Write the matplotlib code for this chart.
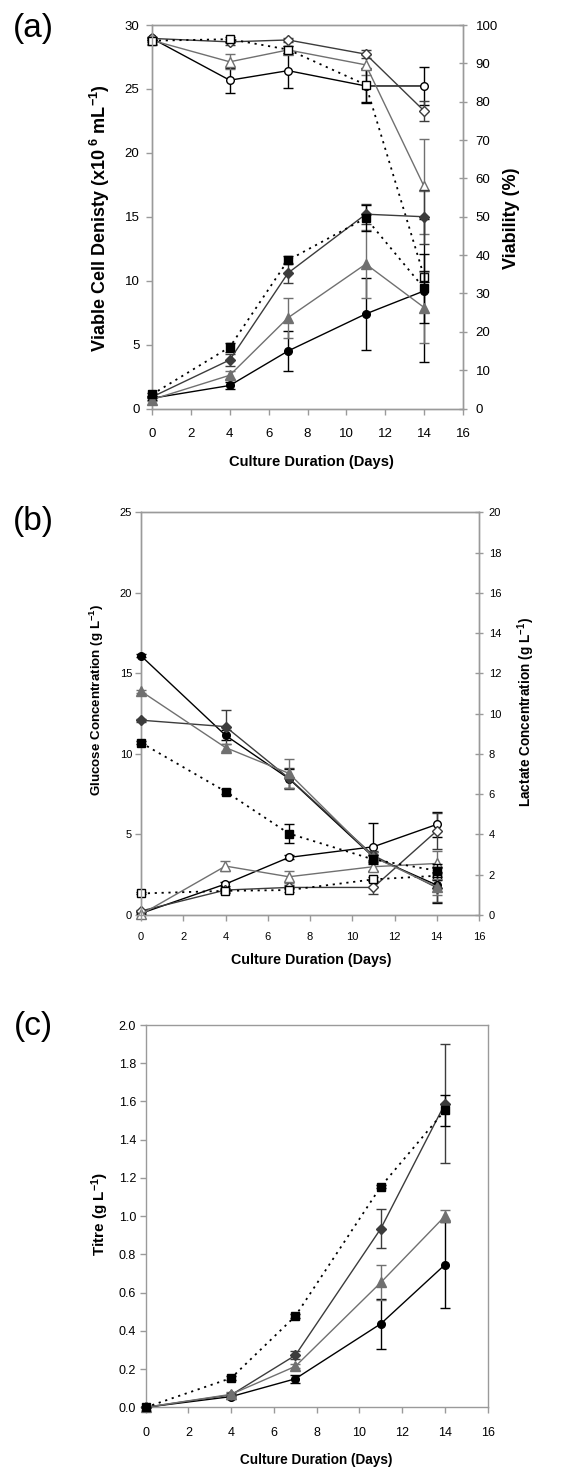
import matplotlib
matplotlib.use("Agg")
import matplotlib.pyplot as plt
from matplotlib.ticker import MultipleLocator, FormatStrFormatter

plt.rcParams['font.family'] = ['Liberation Sans', 'DejaVu Sans']
plt.rcParams['mathtext.fontset'] = 'custom'
plt.rcParams['mathtext.rm'] = 'Liberation Sans'
plt.rcParams['mathtext.bf'] = 'Liberation Sans:bold'
plt.rcParams['mathtext.default'] = 'regular'

# ---------------- data ----------------
days = [0, 4, 7, 11, 14]

# (a) viable cell density (x10^6 /mL)
vcd_circle = [0.8, 1.8, 4.5, 7.4, 9.2]
vcd_circle_err = [0.1, 0.3, 1.55, 2.8, 5.6]
vcd_diamond = [0.9, 3.8, 10.6, 15.2, 15.0]
vcd_diamond_err = [0.1, 0.5, 0.8, 0.8, 2.1]
vcd_triangle = [0.7, 2.6, 7.1, 11.3, 7.9]
vcd_triangle_err = [0.1, 0.3, 1.55, 2.65, 2.8]
vcd_square = [1.1, 4.8, 11.6, 14.9, 9.4]
vcd_square_err = [0.1, 0.35, 0.3, 1.0, 2.7]

# (a) viability (%)
via_circle = [96.5, 85.6, 88.1, 84.1, 84.1]
via_circle_err = [0.5, 3.3, 4.5, 4.5, 5.0]
via_diamond = [96.5, 95.6, 96.1, 92.4, 77.6]
via_diamond_err = [0.3, 0.8, 0.5, 1.0, 2.6]
via_triangle = [96.0, 90.4, 93.5, 89.6, 57.9]
via_triangle_err = [0.3, 2.0, 1.0, 2.6, 12.5]
via_square = [95.9, 96.3, 93.6, 84.4, 34.4]
via_square_err = [0.3, 0.5, 0.8, 4.5, 1.5]

# (b) glucose (g/L)
glc_circle = [16.1, 11.16, 8.47, 3.6, 1.86]
glc_circle_err = [0.1, 0.3, 0.6, 0.3, 1.1]
glc_diamond = [12.1, 11.7, 8.5, 3.7, 1.7]
glc_diamond_err = [0.1, 1.05, 0.65, 0.3, 0.9]
glc_triangle = [13.9, 10.4, 8.8, 3.6, 1.75]
glc_triangle_err = [0.1, 0.2, 0.9, 0.3, 0.5]
glc_square = [10.7, 7.67, 5.06, 3.45, 2.75]
glc_square_err = [0.1, 0.15, 0.6, 0.3, 0.4]

# (b) lactate (g/L)
lac_circle = [0.08, 1.54, 2.86, 3.39, 4.5]
lac_circle_err = [0.05, 0.1, 0.1, 1.2, 0.6]
lac_diamond = [0.2, 1.24, 1.37, 1.37, 4.18]
lac_diamond_err = [0.05, 0.1, 0.1, 0.33, 0.9]
lac_triangle = [0.03, 2.43, 1.9, 2.4, 2.56]
lac_triangle_err = [0.05, 0.25, 0.3, 0.2, 0.6]
lac_square = [1.07, 1.2, 1.24, 1.77, 1.95]
lac_square_err = [0.05, 0.1, 0.1, 0.1, 0.2]

# (c) titre (g/L)
tit_circle = [0.0, 0.056, 0.149, 0.437, 0.746]
tit_circle_err = [0.0, 0.01, 0.02, 0.13, 0.225]
tit_diamond = [0.0, 0.065, 0.272, 0.935, 1.588]
tit_diamond_err = [0.0, 0.01, 0.02, 0.1, 0.31]
tit_triangle = [0.0, 0.068, 0.214, 0.653, 1.0]
tit_triangle_err = [0.0, 0.01, 0.01, 0.09, 0.03]
tit_square = [0.0, 0.153, 0.477, 1.155, 1.553]
tit_square_err = [0.0, 0.01, 0.01, 0.01, 0.08]

# ---------------- style ----------------
W, H = 561, 1468
BLACK = '#000000'
DARK = '#3c3c3c'
GREY = '#707070'
SPINE = '#9a9a9a'
DOT = (0, (1.2, 2.6))

fig = plt.figure(figsize=(W / 100, H / 100), dpi=100)


def px_axes(left, top, right, bottom):
    return fig.add_axes([left / W, 1 - bottom / H, (right - left) / W, (bottom - top) / H])


def draw(ax, y, err, marker, color, ls, filled, ms=5.5, lw=1.0):
    ax.errorbar(days, y, yerr=err, color=color, ls=ls, lw=lw, marker=marker,
                mfc=color if filled else 'white', mec=color, mew=1.0, ms=ms,
                capsize=3.4, elinewidth=1.0, capthick=1.0, ecolor=color,
                clip_on=False, zorder=3)


def style(ax, fs, padx, pady):
    for s in ax.spines.values():
        s.set_color(SPINE)
        s.set_linewidth(1.0)
    ax.tick_params(axis='both', colors=SPINE, labelcolor='black', labelsize=fs,
                   width=1.0)
    ax.tick_params(axis='x', direction='out', length=4, pad=padx)
    ax.tick_params(axis='y', direction='out', length=4, pad=pady)
    ax.set_xlim(0, 16)
    ax.xaxis.set_major_locator(MultipleLocator(2))


def twin_style(ax2, fs, pad):
    for s in ax2.spines.values():
        s.set_color(SPINE)
        s.set_linewidth(1.0)
    ax2.tick_params(axis='y', direction='inout', length=6, colors=SPINE,
                    labelcolor='black', labelsize=fs, pad=pad, width=1.0)


def text(x, y, s, **kw):
    fig.text(x / W, 1 - y / H, s, ha='center', va='center', **kw)


# ---------------- (a) ----------------
axa = px_axes(152, 25, 463, 408.5)
style(axa, 9.5, 10, 5)
axa.set_ylim(0, 30)
axa.yaxis.set_major_locator(MultipleLocator(5))
axa2 = axa.twinx()
axa2.set_ylim(0, 100)
axa2.yaxis.set_major_locator(MultipleLocator(10))
twin_style(axa2, 9.5, 6)

draw(axa2, via_circle, via_circle_err, 'o', BLACK, '-', False)
draw(axa2, via_diamond, via_diamond_err, 'D', DARK, '-', False, ms=5)
draw(axa2, via_triangle, via_triangle_err, '^', GREY, '-', False, ms=6.5)
draw(axa2, via_square, via_square_err, 's', BLACK, DOT, False, lw=1.3)

axa.set_zorder(axa2.get_zorder() + 1)
axa.patch.set_visible(False)
draw(axa, vcd_circle, vcd_circle_err, 'o', BLACK, '-', True)
draw(axa, vcd_diamond, vcd_diamond_err, 'D', DARK, '-', True, ms=5)
draw(axa, vcd_triangle, vcd_triangle_err, '^', GREY, '-', True, ms=6.5)
draw(axa, vcd_square, vcd_square_err, 's', BLACK, DOT, True, lw=1.3)

text(100, 218, 'Viable Cell Denisty (x10$^{\\ 6}$ mL$^{-1}$)', rotation=90,
     fontsize=13, fontweight='bold')
text(512, 218, 'Viability (%)', rotation=90, fontsize=13, fontweight='bold')
text(311, 461.5, 'Culture Duration (Days)', fontsize=10.6, fontweight='bold')
text(33, 29, '(a)', fontsize=24)

# ---------------- (b) ----------------
axb = px_axes(141, 512.5, 479, 915)
style(axb, 8, 8, 2.5)
axb.set_ylim(0, 25)
axb.yaxis.set_major_locator(MultipleLocator(5))
axb2 = axb.twinx()
axb2.set_ylim(0, 20)
axb2.yaxis.set_major_locator(MultipleLocator(2))
twin_style(axb2, 8, 4)

draw(axb2, lac_circle, lac_circle_err, 'o', BLACK, '-', False)
draw(axb2, lac_diamond, lac_diamond_err, 'D', DARK, '-', False, ms=5)
draw(axb2, lac_triangle, lac_triangle_err, '^', GREY, '-', False, ms=6.5)
draw(axb2, lac_square, lac_square_err, 's', BLACK, DOT, False, lw=1.3)

axb.set_zorder(axb2.get_zorder() + 1)
axb.patch.set_visible(False)
draw(axb, glc_circle, glc_circle_err, 'o', BLACK, '-', True)
draw(axb, glc_diamond, glc_diamond_err, 'D', DARK, '-', True, ms=5)
draw(axb, glc_triangle, glc_triangle_err, '^', GREY, '-', True, ms=6.5)
draw(axb, glc_square, glc_square_err, 's', BLACK, DOT, True, lw=1.3)

text(97, 700, 'Glucose Concentration (g L$^{-1}$)', rotation=90,
     fontsize=9.6, fontweight='bold')
text(526, 712, 'Lactate Concentration (g L$^{-1}$)', rotation=90,
     fontsize=9.8, fontweight='bold')
text(311, 960, 'Culture Duration (Days)', fontsize=10.3, fontweight='bold')
text(33, 521, '(b)', fontsize=24)

# ---------------- (c) ----------------
axc = px_axes(145.7, 1025, 487.7, 1407.3)
style(axc, 9, 10, 3)
axc.set_ylim(0, 2.0)
axc.yaxis.set_major_locator(MultipleLocator(0.2))
axc.yaxis.set_major_formatter(FormatStrFormatter('%.1f'))
axc.tick_params(axis='y', right=False)

draw(axc, tit_circle, tit_circle_err, 'o', BLACK, '-', True)
draw(axc, tit_diamond, tit_diamond_err, 'D', DARK, '-', True, ms=5)
draw(axc, tit_triangle, tit_triangle_err, '^', GREY, '-', True, ms=6.5)
draw(axc, tit_square, tit_square_err, 's', BLACK, DOT, True, lw=1.3, ms=6)

text(100, 1214, 'Titre (g L$^{-1}$)', rotation=90, fontsize=11, fontweight='bold')
text(316, 1460, 'Culture Duration (Days)', fontsize=9.8, fontweight='bold')
text(33, 1026, '(c)', fontsize=24)

fig.savefig('out.png', dpi=100)
